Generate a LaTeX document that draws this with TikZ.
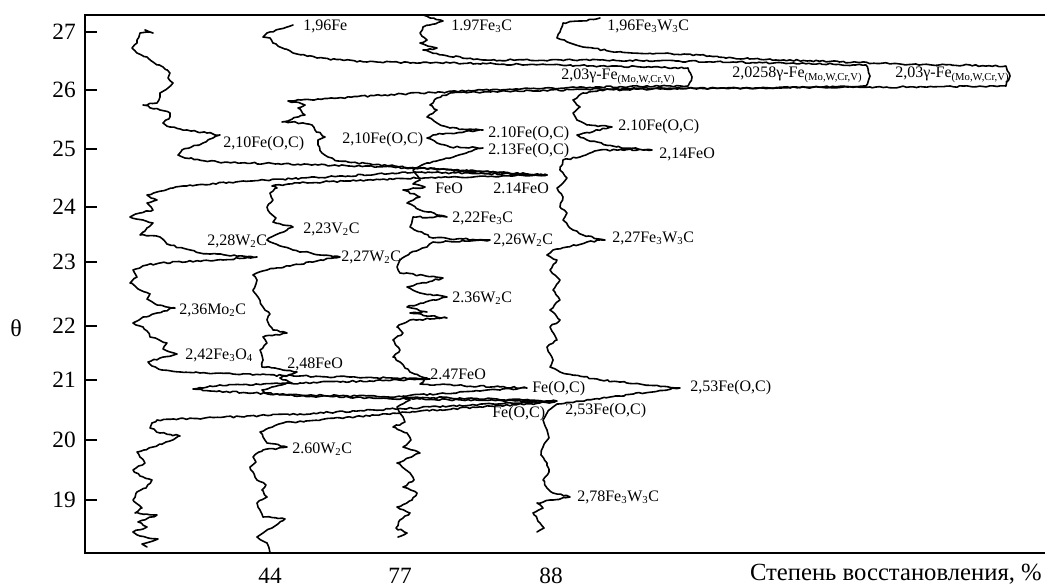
\documentclass[tikz,border=0pt]{standalone}
\usepackage{fontspec}
\setmainfont{Liberation Serif}
\usepackage{tikz}
\usetikzlibrary{decorations.pathmorphing}

\pgfmathsetseed{11}
\tikzset{
  trace/.style={line width=1.2pt, line join=round, line cap=round,
    decorate, decoration={random steps, segment length=2.5pt, amplitude=0.65pt}},
  axisline/.style={line width=0.8pt},
  peaklbl/.style={anchor=west, inner sep=0.75pt, font=\fontsize{12}{14}\selectfont},
  ticklbl/.style={inner sep=0.75pt, font=\fontsize{17.5}{19}\selectfont},
}

\begin{document}
\begin{tikzpicture}[x=0.75pt,y=0.75pt,yscale=-1,xscale=1]
\useasboundingbox (0,0) rectangle (1046,588);

%Frame
\draw [axisline] (1045,15) -- (85,15) -- (85,553) -- (1045,553) ;
%Ticks
\foreach \yy/\lab in {32/27, 90/26, 149/25, 207/24, 262/23, 326/22, 380/21, 440/20, 500/19} {
  \draw [axisline] (85,\yy) -- (97,\yy) ;
  \node [ticklbl] (tick\lab) at (64,\yy) {\lab};
}

%Trace: initial
\draw [trace] (147,547) -- (142,544) -- (158,539) -- (140,536) -- (133,532) -- (147,527) -- (138,522) -- (157,515) -- (135,513) -- (142,508) -- (133,500) -- (137,492) -- (146,488) -- (152,480) -- (140,476) -- (133,470) -- (145,463) -- (140,457) -- (137,452) -- (153,447) -- (166,442) -- (180,436) -- (160,433) -- (150,428) -- (152,423) -- (157,420)
  -- (300,414) -- (450,406) -- (557,401) -- (450,398) -- (300,395) -- (210,391) -- (193,389) -- (210,386) -- (300,383) -- (430,379) -- (300,376) -- (200,373) -- (162,370)
  -- (152,366) -- (148,362) -- (160,358) -- (177,354) -- (163,349) -- (167,343) -- (150,337) -- (147,331) -- (143,327) -- (133,323) -- (143,317) -- (157,313) -- (175,308) -- (157,305) -- (147,299) -- (150,294) -- (140,290) -- (135,286) -- (130,283) -- (137,277) -- (133,270) -- (147,265) -- (160,263) -- (217,260) -- (257,257) -- (200,253) -- (167,244) -- (160,237) -- (140,235) -- (147,228) -- (153,223) -- (143,220) -- (130,217) -- (140,213) -- (153,210) -- (147,203) -- (157,200) -- (147,195) -- (157,192) -- (173,188) -- (183,186)
  -- (252,181) -- (415,172) -- (547,175) -- (415,168) -- (318,165) -- (218,162) -- (185,158)
  -- (178,155) -- (182,150) -- (203,143) -- (213,138) -- (220,135) -- (207,133) -- (187,130) -- (170,127) -- (163,123) -- (170,117) -- (170,113) -- (160,110) -- (143,105) -- (157,103) -- (160,97) -- (160,93) -- (168,88) -- (173,83) -- (168,78) -- (170,73) -- (163,67) -- (153,62) -- (147,57) -- (137,53) -- (132,48) -- (137,43) -- (137,40) -- (140,33) -- (147,32) -- (153,33) -- (145,30) ;

%Trace: 44
\draw [trace] (270,553) -- (267,543) -- (257,537) -- (263,533) -- (272,528) -- (285,519) -- (263,517) -- (260,510) -- (257,503) -- (267,497) -- (262,490) -- (266,485) -- (257,480) -- (253,472) -- (250,467) -- (256,462) -- (253,457) -- (263,450) -- (287,447) -- (267,443) -- (263,437) -- (260,432) -- (283,423)
  -- (420,411) -- (555,402) -- (420,399) -- (300,396) -- (265,393)
  -- (262,390) -- (272,387) -- (285,384) -- (292,383) -- (280,378) -- (297,372) -- (275,368) -- (262,367) -- (263,360) -- (260,350) -- (267,343) -- (263,337) -- (287,333) -- (273,330) -- (267,320) -- (270,314) -- (263,307) -- (258,297) -- (253,290) -- (257,280) -- (253,275) -- (267,270) -- (290,266) -- (317,261) -- (340,257) -- (320,255) -- (293,250) -- (273,243) -- (267,240) -- (280,233) -- (293,227) -- (283,225) -- (273,222) -- (276,218) -- (270,213) -- (267,207) -- (273,200) -- (270,193) -- (277,188) -- (272,186)
  -- (300,183) -- (415,178) -- (547,175) -- (415,168) -- (338,161)
  -- (328,157) -- (322,153) -- (318,145) -- (318,140) -- (325,137) -- (315,130) -- (312,125) -- (292,122) -- (282,122) -- (305,115) -- (298,108) -- (305,105) -- (295,102) -- (288,101)
  -- (385,95) -- (483,90) -- (600,87) -- (688,86) -- (692,77) -- (688,68) -- (600,66) -- (450,63) -- (367,62) -- (317,58) -- (293,53)
  -- (273,43) -- (270,38) -- (263,37) -- (267,33) -- (280,29) -- (293,25) ;

%Trace: 77
\draw [trace] (398,537) -- (407,533) -- (396,528) -- (400,520) -- (410,513) -- (397,507) -- (412,500) -- (417,493) -- (403,487) -- (414,480) -- (410,473) -- (397,463) -- (408,458) -- (420,453) -- (403,447) -- (411,440) -- (407,433) -- (393,427) -- (405,422) -- (403,417) -- (397,407) -- (410,400) -- (403,396)
  -- (527,388) -- (420,384) -- (427,378) -- (410,372)
  -- (400,362) -- (393,357) -- (400,350) -- (393,340) -- (403,333) -- (397,327) -- (410,320) -- (447,318) -- (410,313) -- (427,312) -- (407,307) -- (447,297) -- (420,293) -- (407,287) -- (443,278) -- (400,273) -- (397,267) -- (400,260) -- (410,253) -- (427,247) -- (433,242) -- (490,240) -- (433,238) -- (410,227) -- (413,217) -- (447,217) -- (420,210) -- (407,203) -- (420,197) -- (403,190) -- (425,187) -- (413,184) -- (420,180) -- (413,170) -- (427,163) -- (440,160) -- (483,148) -- (450,147) -- (437,143) -- (427,138) -- (433,135) -- (483,130) -- (450,128) -- (437,123) -- (427,117) -- (437,110) -- (430,105) -- (437,98) -- (450,93)
  -- (600,89) -- (750,88) -- (866,86) -- (870,76) -- (866,65) -- (733,62) -- (600,60) -- (483,60) -- (443,55)
  -- (423,50) -- (437,48) -- (420,43) -- (427,40) -- (420,33) -- (423,27) -- (443,21) -- (430,18) -- (423,15) ;

%Trace: 88
\draw [trace] (537,532) -- (544,528) -- (540,523) -- (533,513) -- (543,508) -- (537,503) -- (553,500) -- (570,497) -- (553,493) -- (547,488) -- (543,480) -- (549,472) -- (547,463) -- (541,455) -- (543,447) -- (549,438) -- (547,430) -- (543,420) -- (547,413) -- (553,407) -- (557,404)
  -- (680,388) -- (600,380) -- (560,372)
  -- (550,367) -- (553,360) -- (547,347) -- (557,340) -- (550,327) -- (560,320) -- (550,310) -- (560,300) -- (553,290) -- (560,280) -- (550,270) -- (557,260) -- (547,255) -- (553,250) -- (567,247) -- (587,242) -- (605,240) -- (583,235) -- (573,230) -- (563,220) -- (567,213) -- (560,207) -- (563,197) -- (557,188) -- (563,183) -- (567,178) -- (560,170) -- (563,160) -- (580,157) -- (600,150) -- (652,150) -- (617,147) -- (587,140) -- (577,135) -- (612,127) -- (587,125) -- (577,120) -- (573,113) -- (580,107) -- (573,100) -- (583,93) -- (600,90)
  -- (733,88) -- (900,87) -- (1006,86) -- (1010,76) -- (1006,66) -- (900,64) -- (733,58) -- (700,55) -- (617,52)
  -- (583,47) -- (570,43) -- (557,38) -- (560,32) -- (563,23) -- (580,21) -- (600,18) ;

% Text Node
\node [peaklbl] (p1) at (302,26) {1,96Fe};
\node [peaklbl] (p2) at (450,26) {1.97Fe\textsubscript{3}C};
\node [peaklbl] (p3) at (606,26) {1,96Fe\textsubscript{3}W\textsubscript{3}C};
\node [peaklbl] (p4) at (560,77) {2,03γ-Fe\textsubscript{(Mo,W,Cr,V)}};
\node [peaklbl] (p5) at (731,75) {2,0258γ-Fe\textsubscript{(Mo,W,Cr,V)}};
\node [peaklbl] (p6) at (894,75) {2,03γ-Fe\textsubscript{(Mo,W,Cr,V)}};
\node [peaklbl] (p7) at (222,144) {2,10Fe(O,C)};
\node [peaklbl] (p8) at (341,140) {2,10Fe(O,C)};
\node [peaklbl] (p9) at (487,134) {2.10Fe(O,C)};
\node [peaklbl] (p10) at (487,151) {2.13Fe(O,C)};
\node [peaklbl] (p11) at (617,127) {2.10Fe(O,C)};
\node [peaklbl] (p12) at (658,154) {2,14FeO};
\node [peaklbl] (p13) at (434,188) {FeO};
\node [peaklbl] (p14) at (492,188) {2.14FeO};
\node [peaklbl] (p15) at (451,218) {2,22Fe\textsubscript{3}C};
\node [peaklbl] (p16) at (492,240) {2,26W\textsubscript{2}C};
\node [peaklbl] (p17) at (611,238) {2,27Fe\textsubscript{3}W\textsubscript{3}C};
\node [peaklbl] (p18) at (302,229) {2,23V\textsubscript{2}C};
\node [peaklbl] (p19) at (206,241) {2,28W\textsubscript{2}C};
\node [peaklbl] (p20) at (340,257) {2,27W\textsubscript{2}C};
\node [peaklbl] (p21) at (451,298) {2.36W\textsubscript{2}C};
\node [peaklbl] (p22) at (178,310) {2,36Mo\textsubscript{2}C};
\node [peaklbl] (p23) at (184,355) {2,42Fe\textsubscript{3}O\textsubscript{4}};
\node [peaklbl] (p24) at (286,364) {2,48FeO};
\node [peaklbl] (p25) at (429,374) {2.47FeO};
\node [peaklbl] (p26) at (531,389) {Fe(O,C)};
\node [peaklbl] (p27) at (689,388) {2,53Fe(O,C)};
\node [peaklbl] (p28) at (491,414) {Fe(O,C)};
\node [peaklbl] (p29) at (564,411) {2,53Fe(O,C)};
\node [peaklbl] (p30) at (291,449) {2.60W\textsubscript{2}C};
\node [peaklbl] (p31) at (576,497) {2,78Fe\textsubscript{3}W\textsubscript{3}C};

% Axis labels
\node [inner sep=0.75pt, font=\fontsize{18}{20}\selectfont] (theta) at (16,328) {θ};
\node [ticklbl] (x44) at (270,576) {44};
\node [ticklbl] (x77) at (400,576) {77};
\node [ticklbl] (x88) at (551,576) {88};
\node [inner sep=0.75pt, font=\fontsize{18.5}{20}\selectfont, anchor=east] (xname) at (1043,574) {Степень восстановления, \%};
\end{tikzpicture}
\end{document}
